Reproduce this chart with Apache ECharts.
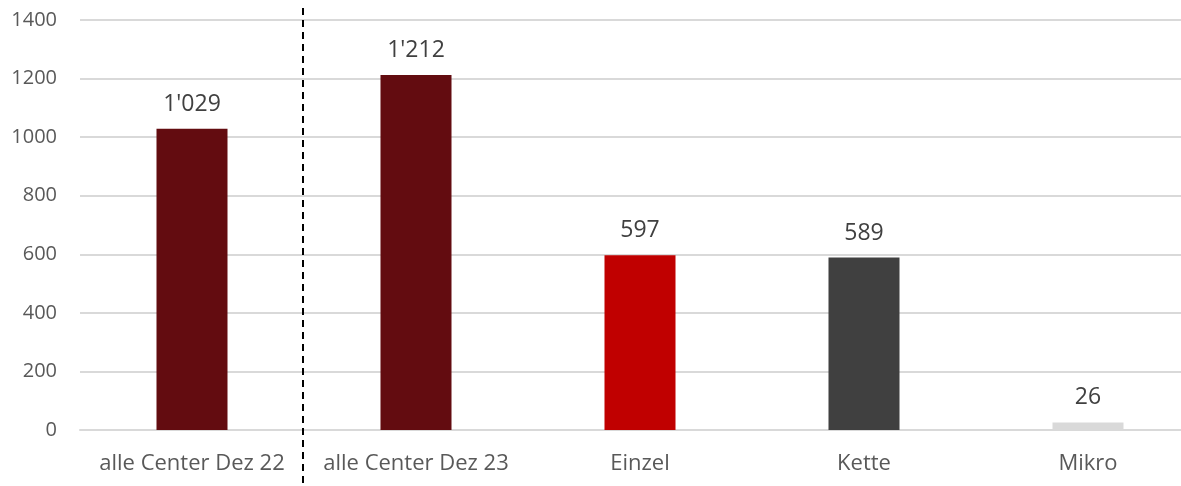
<!DOCTYPE html>
<html>
<head>
<meta charset="utf-8">
<script src="https://cdn.jsdelivr.net/npm/echarts@6/dist/echarts.min.js"></script>
<style>
  html, body { margin: 0; padding: 0; background: #fff; }
  #chart { width: 1181px; height: 486px; }
</style>
</head>
<body>
<div id="chart"></div>
<script>
// Daten
var categories = ['alle Center Dez 22', 'alle Center Dez 23', 'Einzel', 'Kette', 'Mikro'];
var values = [1029, 1212, 597, 589, 26];
var barColors = ['#630C10', '#630C10', '#C00000', '#404040', '#D9D9D9'];
var yTicks = [0, 200, 400, 600, 800, 1000, 1200, 1400];
var dividerAfter = 0; // gestrichelte Linie nach der ersten Kategorie

var fontFamily = '"Open Sans", "Noto Sans", sans-serif';

function fmt(v) {
  // Tausendertrennzeichen als Apostroph
  return String(v).replace(/\B(?=(\d{3})+(?!\d))/g, "'");
}

var chart = echarts.init(document.getElementById('chart'));

var option = {
  animation: false,
  // Plotbereich reicht rechts etwas über den Rand hinaus (wie im Original)
  grid: { left: 80, width: 1120, top: 20, bottom: 56, outerBoundsMode: 'none', containLabel: false },
  xAxis: {
    type: 'category',
    data: categories,
    axisLine: { lineStyle: { color: '#D9D9D9', width: 2 } },
    axisTick: { show: false },
    axisLabel: { color: '#595959', fontSize: 22, fontFamily: fontFamily, margin: 23, interval: 0 }
  },
  yAxis: {
    type: 'value',
    min: yTicks[0],
    max: yTicks[yTicks.length - 1],
    interval: 200,
    axisLine: { show: false },
    axisTick: { show: false },
    axisLabel: {
      color: '#595959', fontSize: 20, fontFamily: fontFamily, margin: 23,
      formatter: function (v) { return String(v); }
    },
    splitLine: { lineStyle: { color: '#D9D9D9', width: 2 } }
  },
  series: [{
    type: 'bar',
    barWidth: '31.7%',
    data: values.map(function (v, i) {
      return { value: v, itemStyle: { color: barColors[i] } };
    }),
    label: {
      show: true,
      position: 'top',
      distance: 13,
      color: '#404040',
      fontSize: 23,
      fontFamily: fontFamily,
      formatter: function (p) { return fmt(p.value); }
    }
  }]
};

chart.setOption(option);

// Trennlinie zwischen den Kategorien, Position über die Achse berechnet
var p0 = chart.convertToPixel({ xAxisIndex: 0 }, dividerAfter);
var p1 = chart.convertToPixel({ xAxisIndex: 0 }, dividerAfter + 1);
var xDiv = (p0 + p1) / 2 - 1;
chart.setOption({
  graphic: [{
    type: 'line',
    shape: { x1: xDiv, y1: 8, x2: xDiv, y2: 486 },
    style: { stroke: '#000', lineWidth: 2, lineDash: [7, 5] },
    z: 10
  }]
});
</script>
</body>
</html>
